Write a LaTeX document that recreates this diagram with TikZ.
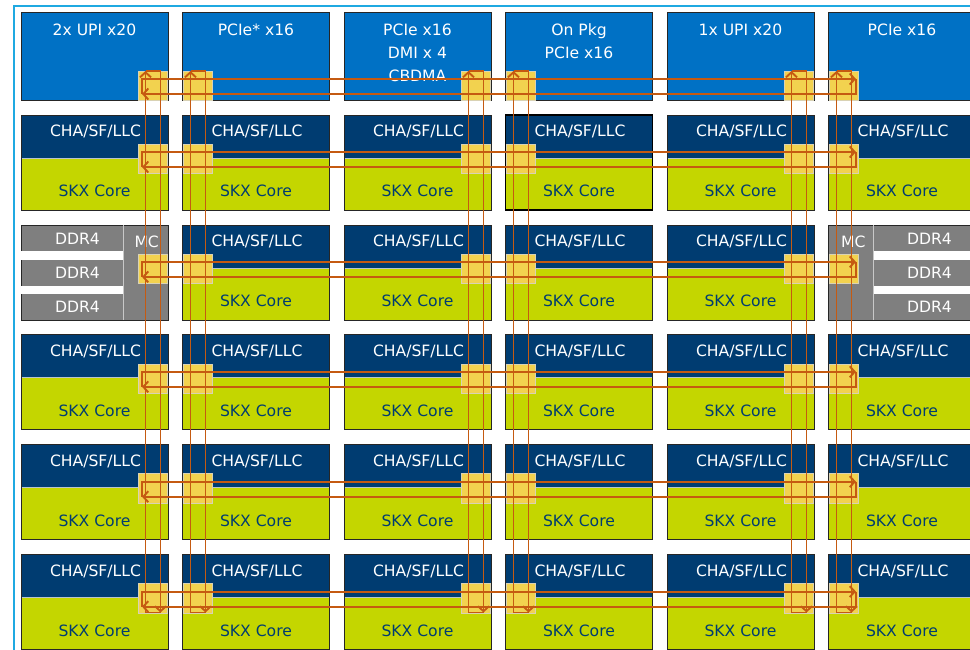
\documentclass[tikz,border=0pt]{standalone}
\usepackage{fontspec}
\setmainfont{DejaVu Sans}
\usetikzlibrary{arrows.meta}
\definecolor{ublue}{HTML}{0071C5}
\definecolor{cdark}{HTML}{003C71}
\definecolor{cgreen}{HTML}{C4D600}
\definecolor{mcgray}{HTML}{7F7F7F}
\definecolor{stopfill}{HTML}{F2D24F}
\definecolor{stopedge}{HTML}{D9D2B4}
\definecolor{ringc}{HTML}{C55A11}
\definecolor{framec}{HTML}{1FA9E1}
\definecolor{tileedge}{HTML}{262626}
\definecolor{sepc}{HTML}{B8C4CC}
\definecolor{mcsep}{HTML}{C8C8C8}
\begin{document}
\begin{tikzpicture}[x=1pt,y=-1pt,
  tile/.style={draw=tileedge, line width=0.8pt, minimum width=147pt, minimum height=95pt,
    anchor=north west, inner sep=0pt, outer sep=0pt},
  toptile/.style={tile, fill=ublue, minimum height=88pt},
  chatile/.style={tile, fill=cgreen, path picture={
      \fill[cdark] (path picture bounding box.north west) rectangle ([yshift=-43pt]path picture bounding box.north east);
      \draw[sepc, line width=0.8pt] ([yshift=-43pt]path picture bounding box.north west) -- ([yshift=-43pt]path picture bounding box.north east);}},
  mctile/.style={tile, fill=mcgray},
  stopbox/.style={draw=stopedge, line width=0.6pt, fill=stopfill, minimum width=29.5pt, minimum height=29.5pt,
    anchor=north west, inner sep=0pt, outer sep=0pt},
  ring/.style={draw=ringc, line width=1.9pt},
  tipped/.style={-{Straight Barb[length=5pt,width=11pt]}},
  lbl/.style={font=\fontsize{15.6}{23}\selectfont, inner sep=0pt, anchor=base},
  toplbl/.style={lbl, text=white, anchor=north, align=center},
  chalbl/.style={lbl, text=white},
  corelbl/.style={lbl, text=cdark},
  mclbl/.style={lbl, text=white},
]
\useasboundingbox (0,0) rectangle (970,649);
\clip (0,0) rectangle (970,649);
\draw[framec, line width=2pt] (14,5.5) rectangle (1010,700);

% top row
\foreach \c/\txt in {0/{2x UPI x20},1/{PCIe* x16},2/{PCIe x16\\DMI x 4\\CBDMA},3/{On Pkg\\PCIe x16},4/{1x UPI x20},5/{PCIe x16}}{
  \pgfmathsetmacro{\L}{21+161.5*\c}
  \node[toptile] (top\c) at (\L,12) {};
  \node[toplbl] (toplbl\c) at (\L+73.5,23.8) {\txt};
}

% core rows
\foreach \r in {1,...,5}{
  \pgfmathsetmacro{\T}{115+109.9*(\r-1)}
  \foreach \c in {0,...,5}{
    \pgfmathsetmacro{\L}{21+161.5*\c}
    \pgfmathtruncatemacro{\ismc}{(\r==2)&&((\c==0)||(\c==5))}
    \ifnum\ismc=0
      \node[chatile] (t-\r-\c) at (\L,\T) {};
      \node[chalbl] (cha-\r-\c) at (\L+74.5,\T+21.4) {CHA/SF/LLC};
      \node[corelbl] (core-\r-\c) at (\L+73.5,\T+81.7) {SKX Core};
    \fi
  }
}
\draw[black, line width=1.8pt] (t-1-3.north west) rectangle (t-1-3.south east);

% memory controller tiles (row 3)
\pgfmathsetmacro{\T}{115+109.9}
\node[mctile] (mcL) at (21,\T) {};
\fill[white] (21.4,\T+25.7) rectangle (123,\T+35);
\fill[white] (21.4,\T+61) rectangle (123,\T+69.3);
\draw[mcsep, line width=0.8pt] (123,\T) -- (123,\T+95);
\node[mclbl] (mcLt) at (146.7,\T+22.4) {MC};
\node[mclbl] (ddrL1) at (77.5,\T+19.3) {DDR4};
\node[mclbl] (ddrL2) at (77.5,\T+54) {DDR4};
\node[mclbl] (ddrL3) at (77.5,\T+87.7) {DDR4};

\node[mctile] (mcR) at (828.5,\T) {};
\fill[white] (873,\T+25.7) rectangle (980,\T+35);
\fill[white] (873,\T+61) rectangle (980,\T+69.3);
\draw[mcsep, line width=0.8pt] (873,\T) -- (873,\T+95);
\node[mclbl] (mcRt) at (853.3,\T+22.4) {MC};
\node[mclbl] (ddrR1) at (929.5,\T+19.3) {DDR4};
\node[mclbl] (ddrR2) at (929.5,\T+54) {DDR4};
\node[mclbl] (ddrR3) at (929.5,\T+87.7) {DDR4};

% mesh stops
\foreach \c in {0,...,5}{
  \pgfmathsetmacro{\S}{21+161.5*\c+117-116.5*mod(\c,2)}
  \node[stopbox] (st-0-\c) at (\S,71) {};
  \foreach \r in {1,...,5}{
    \pgfmathsetmacro{\T}{115+109.9*(\r-1)}
    \node[stopbox] (st-\r-\c) at (\S,\T+29) {};
  }
}

% horizontal rings
\foreach \r in {0,...,5}{
  \pgfmathsetmacro{\Y}{ifthenelse(\r==0,71,115+109.9*(\r-1)+29)}
  \coordinate (ha\r) at (142,\Y+8);
  \coordinate (hb\r) at (856,\Y+8);
  \coordinate (hc\r) at (856,\Y+23);
  \coordinate (hd\r) at (142,\Y+23);
  \draw[ring,tipped] (hd\r) -- (ha\r) -- (hb\r);
  \draw[ring,tipped] (hb\r) -- (hc\r) -- (hd\r);
}

% vertical rings
\foreach \c in {0,...,5}{
  \pgfmathsetmacro{\S}{21+161.5*\c+117-116.5*mod(\c,2)}
  \coordinate (va\c) at (\S+7.5,71);
  \coordinate (vb\c) at (\S+22.5,71);
  \coordinate (vc\c) at (\S+22.5,612.5);
  \coordinate (vd\c) at (\S+7.5,612.5);
  \draw[ring,tipped] (vc\c) -- (vd\c) -- (va\c);
  \draw[ring,tipped] (va\c) -- (vb\c) -- (vc\c);
}
\end{tikzpicture}
\end{document}
